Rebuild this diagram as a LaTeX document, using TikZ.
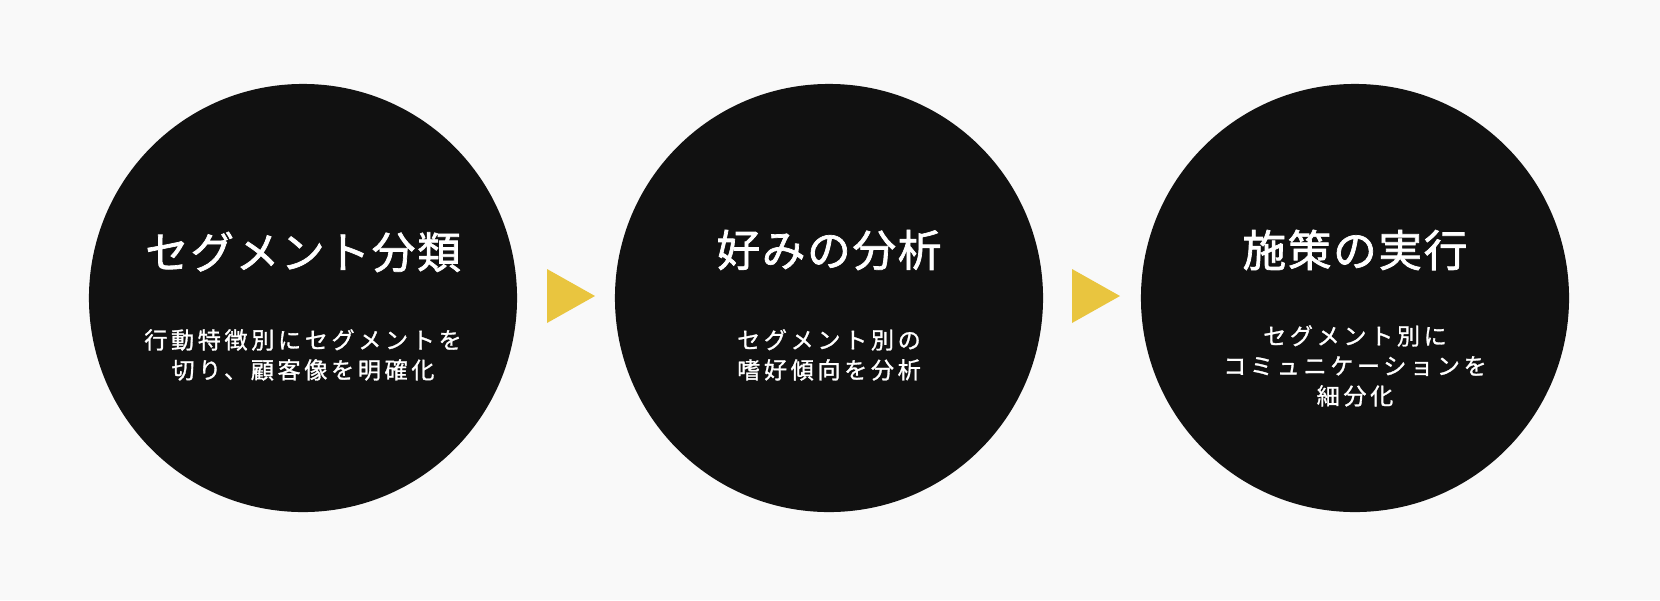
\documentclass[tikz,border=0pt]{standalone}
\usepackage{fontspec}
\setmainfont{Noto Sans CJK JP}
\newfontfamily\jptitle[LetterSpace=4, FakeBold=1.6]{Noto Sans CJK JP}
\newfontfamily\jpbody[LetterSpace=16, FakeBold=1.2]{Noto Sans CJK JP}
\usepackage{tikz}
\usetikzlibrary{positioning}
\definecolor{bgpaper}{HTML}{F9F9F9}
\definecolor{discblack}{HTML}{111111}
\definecolor{arrowgold}{HTML}{E9C53F}

\begin{document}
\begin{tikzpicture}[x=0.025cm, y=-0.025cm,
  disc/.style={circle, fill=discblack, minimum size=10.7cm, inner sep=0pt},
  steptitle/.style={text=white, inner sep=0pt, font=\jptitle\fontsize{31}{36}\selectfont},
  stepbody/.style={text=white, align=center, inner sep=0pt, font=\jpbody\fontsize{16.4}{21.3}\selectfont},
  pointer/.style={fill=arrowgold},
]

% Background
\fill[bgpaper] (0,0) rectangle (1660,600);
\useasboundingbox (0,0) rectangle (1660,600);

% Circles
\node[disc] (c1) at (303,298) {};
\node[disc] (c2) at (829,298) {};
\node[disc] (c3) at (1355,298) {};

% Titles
\node[steptitle] (t1) at (303,252) {セグメント分類};
\node[steptitle] (t2) at (829,250) {好みの分析};
\node[steptitle] (t3) at (1355,250) {施策の実行};

% Descriptions
\node[stepbody, anchor=north] (b1) at (303,329) {行動特徴別にセグメントを\\切り、顧客像を明確化};
\node[stepbody, anchor=north] (b2) at (829,329) {セグメント別の\\嗜好傾向を分析};
\node[stepbody, anchor=north] (b3) at (1355,325) {セグメント別に\\コミュニケーションを\\細分化};

% Pointers
\coordinate (p1) at (547,296);
\coordinate (p2) at (1072,296);
\fill[pointer] (p1) ++(0,-27) -- ++(48,27) -- ++(-48,27) -- cycle;
\fill[pointer] (p2) ++(0,-27) -- ++(48,27) -- ++(-48,27) -- cycle;

\end{tikzpicture}
\end{document}
